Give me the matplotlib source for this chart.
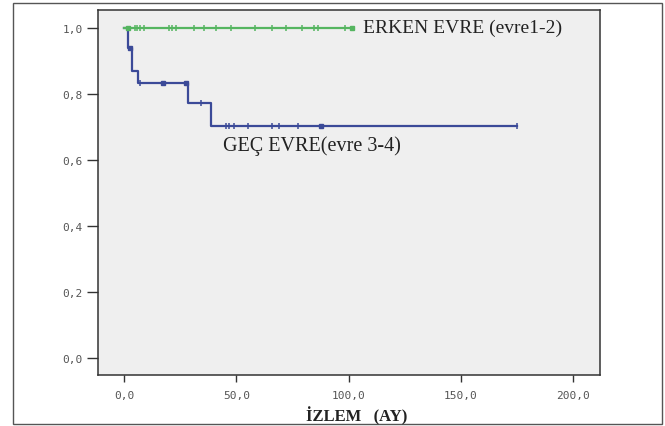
import matplotlib
matplotlib.use("Agg")
import matplotlib.pyplot as plt
from matplotlib.patches import Rectangle

# Kaplan-Meier survival curves (months of follow-up)
early_label = "ERKEN EVRE (evre1-2)"
early_step_times = [0.0, 101.7]
early_step_surv = [1.0, 1.0]
early_censor_times = [4.8, 5.8, 7.0, 8.9, 19.9, 21.4, 22.9, 31.2, 35.6, 41.1,
                      47.4, 58.2, 65.9, 72.0, 79.0, 84.5, 86.4, 98.3]
early_multi_censor = [1.5, 101.7]

late_label = "GEÇ EVRE(evre 3-4)"
late_step_times = [0.0, 1.8, 3.3, 6.0, 28.5, 38.5, 175.2]
late_step_surv = [1.0, 0.94, 0.87, 0.835, 0.773, 0.705, 0.705]
late_censor_times = [6.8, 34.0, 45.3, 46.8, 48.8, 55.2, 66.0, 68.8, 77.3, 175.2]
late_multi_censor = [2.5, 17.1, 27.5, 87.6]

x_ticks = [0, 50, 100, 150, 200]
x_tick_labels = ["0,0", "50,0", "100,0", "150,0", "200,0"]
y_ticks = [0.0, 0.2, 0.4, 0.6, 0.8, 1.0]
y_tick_labels = ["0,0", "0,2", "0,4", "0,6", "0,8", "1,0"]
x_label = "İZLEM   (AY)"

green = "#55b560"
blue = "#3b4a98"


def surv_at(times, surv, t):
    val = surv[0]
    for ti, si in zip(times, surv):
        if ti <= t:
            val = si
    return val


fig = plt.figure(figsize=(6.65, 4.27), dpi=100)
fig.patches.append(Rectangle((13 / 665, 1 - 425 / 427), 649 / 665, 421 / 427,
                             transform=fig.transFigure, fill=False,
                             edgecolor="#555555", linewidth=1.0))

ax = fig.add_axes([98 / 665, 1 - 376 / 427, 502 / 665, 365 / 427])
ax.set_facecolor("#efefef")

# early stage
ax.step(early_step_times, early_step_surv, where="post", color=green, lw=1.6, zorder=3)
ax.plot(early_censor_times, [surv_at(early_step_times, early_step_surv, t) for t in early_censor_times],
        ls="none", marker="|", ms=5, mew=1.1, color=green, zorder=4)
ax.plot(early_multi_censor, [surv_at(early_step_times, early_step_surv, t) for t in early_multi_censor],
        ls="none", marker="s", ms=3.5, color=green, zorder=4)

# late stage
ax.step(late_step_times, late_step_surv, where="post", color=blue, lw=1.6, zorder=2)
ax.plot(late_censor_times, [surv_at(late_step_times, late_step_surv, t) for t in late_censor_times],
        ls="none", marker="|", ms=5, mew=1.1, color=blue, zorder=4)
ax.plot(late_multi_censor, [surv_at(late_step_times, late_step_surv, t) for t in late_multi_censor],
        ls="none", marker="s", ms=3.5, color=blue, zorder=4)

ax.text(106.4, 1.004, early_label, family="Liberation Serif", fontsize=14,
        color="#222222", va="center", ha="left")
ax.text(43.9, 0.646, late_label, family="Liberation Serif", fontsize=14.5,
        color="#222222", va="center", ha="left")

ax.set_xlim(-11.7, 212.0)
ax.set_ylim(-0.0506, 1.0555)
ax.set_xticks(x_ticks)
ax.set_xticklabels(x_tick_labels)
ax.set_yticks(y_ticks)
ax.set_yticklabels(y_tick_labels)
for lab in ax.get_xticklabels() + ax.get_yticklabels():
    lab.set_family("DejaVu Sans Mono")
    lab.set_fontsize(8)
    lab.set_color("#555555")
ax.tick_params(axis="y", length=8, width=1, color="#333333", pad=3)
ax.tick_params(axis="x", length=5, width=1, color="#333333", pad=6)
for s in ax.spines.values():
    s.set_color("#333333")
    s.set_linewidth(1.1)

fig.text(357 / 665, 1 - 416 / 427, x_label, family="Liberation Serif", fontsize=12,
         fontweight="bold", color="#222222", ha="center", va="center")

fig.savefig("out.png", dpi=100)
